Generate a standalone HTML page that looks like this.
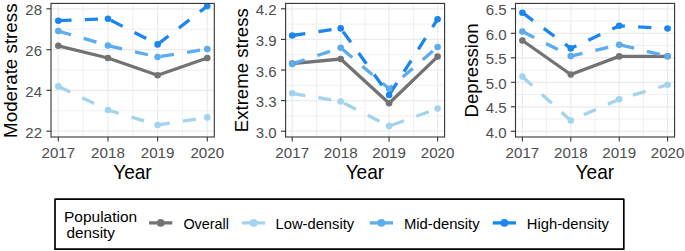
<!DOCTYPE html><html><head><meta charset="utf-8"><style>html,body{margin:0;padding:0;background:#fff;overflow:hidden;width:685px;height:251px;}svg{display:block;}</style></head><body>
<svg width="685" height="251" viewBox="0 0 685 251" font-family='"Liberation Sans", sans-serif'>
<rect x="0" y="0" width="685" height="251" fill="#fff"/>
<clipPath id="c0"><rect x="51.0" y="3.4" width="163.30" height="133.60"/></clipPath>
<g clip-path="url(#c0)">
<line x1="83.12" y1="3.4" x2="83.12" y2="137.0" stroke="#ebebeb" stroke-width="0.8"/>
<line x1="132.78" y1="3.4" x2="132.78" y2="137.0" stroke="#ebebeb" stroke-width="0.8"/>
<line x1="182.43" y1="3.4" x2="182.43" y2="137.0" stroke="#ebebeb" stroke-width="0.8"/>
<line x1="51.0" y1="29.20" x2="214.3" y2="29.20" stroke="#ebebeb" stroke-width="0.8"/>
<line x1="51.0" y1="70.00" x2="214.3" y2="70.00" stroke="#ebebeb" stroke-width="0.8"/>
<line x1="51.0" y1="110.80" x2="214.3" y2="110.80" stroke="#ebebeb" stroke-width="0.8"/>
<line x1="58.30" y1="3.4" x2="58.30" y2="137.0" stroke="#ebebeb" stroke-width="1.2"/>
<line x1="107.95" y1="3.4" x2="107.95" y2="137.0" stroke="#ebebeb" stroke-width="1.2"/>
<line x1="157.60" y1="3.4" x2="157.60" y2="137.0" stroke="#ebebeb" stroke-width="1.2"/>
<line x1="207.25" y1="3.4" x2="207.25" y2="137.0" stroke="#ebebeb" stroke-width="1.2"/>
<line x1="51.0" y1="8.80" x2="214.3" y2="8.80" stroke="#ebebeb" stroke-width="1.2"/>
<line x1="51.0" y1="49.70" x2="214.3" y2="49.70" stroke="#ebebeb" stroke-width="1.2"/>
<line x1="51.0" y1="90.30" x2="214.3" y2="90.30" stroke="#ebebeb" stroke-width="1.2"/>
<line x1="51.0" y1="131.20" x2="214.3" y2="131.20" stroke="#ebebeb" stroke-width="1.2"/>
<polyline points="58.30,45.80 107.95,58.00 157.60,75.30 207.25,58.00" fill="none" stroke="#737373" stroke-width="3.3" stroke-linecap="butt" stroke-linejoin="round"/>
<polyline points="58.30,86.40 107.95,110.00 157.60,125.00 207.25,117.40" fill="none" stroke="#A4D3EE" stroke-width="3.3" stroke-dasharray="13.25 13.25" stroke-linecap="butt" stroke-linejoin="round"/>
<polyline points="58.30,31.00 107.95,45.50 157.60,57.00 207.25,49.10" fill="none" stroke="#5CACEE" stroke-width="3.3" stroke-dasharray="13.25 13.25" stroke-linecap="butt" stroke-linejoin="round"/>
<polyline points="58.30,20.70 107.95,18.80 157.60,44.40 207.25,6.10" fill="none" stroke="#1C86EE" stroke-width="3.3" stroke-dasharray="13.25 13.25" stroke-linecap="butt" stroke-linejoin="round"/>
<circle cx="58.30" cy="45.80" r="3.3" fill="#737373"/>
<circle cx="107.95" cy="58.00" r="3.3" fill="#737373"/>
<circle cx="157.60" cy="75.30" r="3.3" fill="#737373"/>
<circle cx="207.25" cy="58.00" r="3.3" fill="#737373"/>
<circle cx="58.30" cy="86.40" r="3.3" fill="#A4D3EE"/>
<circle cx="107.95" cy="110.00" r="3.3" fill="#A4D3EE"/>
<circle cx="157.60" cy="125.00" r="3.3" fill="#A4D3EE"/>
<circle cx="207.25" cy="117.40" r="3.3" fill="#A4D3EE"/>
<circle cx="58.30" cy="31.00" r="3.3" fill="#5CACEE"/>
<circle cx="107.95" cy="45.50" r="3.3" fill="#5CACEE"/>
<circle cx="157.60" cy="57.00" r="3.3" fill="#5CACEE"/>
<circle cx="207.25" cy="49.10" r="3.3" fill="#5CACEE"/>
<circle cx="58.30" cy="20.70" r="3.3" fill="#1C86EE"/>
<circle cx="107.95" cy="18.80" r="3.3" fill="#1C86EE"/>
<circle cx="157.60" cy="44.40" r="3.3" fill="#1C86EE"/>
<circle cx="207.25" cy="6.10" r="3.3" fill="#1C86EE"/>
</g>
<rect x="51.0" y="3.4" width="163.30" height="133.60" fill="none" stroke="#333333" stroke-width="1.1"/>
<line x1="46.40" y1="8.8" x2="51.0" y2="8.8" stroke="#333333" stroke-width="1.1"/>
<text transform="translate(42.00,15.40) scale(1,1.03)" font-size="15" fill="#4d4d4d" text-anchor="end">28</text>
<line x1="46.40" y1="49.7" x2="51.0" y2="49.7" stroke="#333333" stroke-width="1.1"/>
<text transform="translate(42.00,56.30) scale(1,1.03)" font-size="15" fill="#4d4d4d" text-anchor="end">26</text>
<line x1="46.40" y1="90.3" x2="51.0" y2="90.3" stroke="#333333" stroke-width="1.1"/>
<text transform="translate(42.00,96.90) scale(1,1.03)" font-size="15" fill="#4d4d4d" text-anchor="end">24</text>
<line x1="46.40" y1="131.2" x2="51.0" y2="131.2" stroke="#333333" stroke-width="1.1"/>
<text transform="translate(42.00,137.80) scale(1,1.03)" font-size="15" fill="#4d4d4d" text-anchor="end">22</text>
<line x1="58.3" y1="137.0" x2="58.3" y2="141.60" stroke="#333333" stroke-width="1.1"/>
<text transform="translate(58.3,157.5) scale(1.01,1.02)" font-size="15" fill="#4d4d4d" text-anchor="middle">2017</text>
<line x1="107.95" y1="137.0" x2="107.95" y2="141.60" stroke="#333333" stroke-width="1.1"/>
<text transform="translate(107.95,157.5) scale(1.01,1.02)" font-size="15" fill="#4d4d4d" text-anchor="middle">2018</text>
<line x1="157.6" y1="137.0" x2="157.6" y2="141.60" stroke="#333333" stroke-width="1.1"/>
<text transform="translate(157.6,157.5) scale(1.01,1.02)" font-size="15" fill="#4d4d4d" text-anchor="middle">2019</text>
<line x1="207.25" y1="137.0" x2="207.25" y2="141.60" stroke="#333333" stroke-width="1.1"/>
<text transform="translate(207.25,157.5) scale(1.01,1.02)" font-size="15" fill="#4d4d4d" text-anchor="middle">2020</text>
<text transform="translate(132.45,178.8) scale(1.025,1.05)" font-size="18.6" fill="#000" text-anchor="middle">Year</text>
<text transform="translate(17.35,70.70) rotate(-90)" x="0" y="0" font-size="18.75" fill="#000" text-anchor="middle">Moderate stress</text>
<clipPath id="c1"><rect x="285.6" y="3.4" width="159.00" height="133.60"/></clipPath>
<g clip-path="url(#c1)">
<line x1="316.45" y1="3.4" x2="316.45" y2="137.0" stroke="#ebebeb" stroke-width="0.8"/>
<line x1="364.95" y1="3.4" x2="364.95" y2="137.0" stroke="#ebebeb" stroke-width="0.8"/>
<line x1="413.45" y1="3.4" x2="413.45" y2="137.0" stroke="#ebebeb" stroke-width="0.8"/>
<line x1="285.6" y1="24.10" x2="444.6" y2="24.10" stroke="#ebebeb" stroke-width="0.8"/>
<line x1="285.6" y1="54.70" x2="444.6" y2="54.70" stroke="#ebebeb" stroke-width="0.8"/>
<line x1="285.6" y1="85.30" x2="444.6" y2="85.30" stroke="#ebebeb" stroke-width="0.8"/>
<line x1="285.6" y1="115.90" x2="444.6" y2="115.90" stroke="#ebebeb" stroke-width="0.8"/>
<line x1="292.20" y1="3.4" x2="292.20" y2="137.0" stroke="#ebebeb" stroke-width="1.2"/>
<line x1="340.70" y1="3.4" x2="340.70" y2="137.0" stroke="#ebebeb" stroke-width="1.2"/>
<line x1="389.10" y1="3.4" x2="389.10" y2="137.0" stroke="#ebebeb" stroke-width="1.2"/>
<line x1="437.60" y1="3.4" x2="437.60" y2="137.0" stroke="#ebebeb" stroke-width="1.2"/>
<line x1="285.6" y1="8.80" x2="444.6" y2="8.80" stroke="#ebebeb" stroke-width="1.2"/>
<line x1="285.6" y1="39.40" x2="444.6" y2="39.40" stroke="#ebebeb" stroke-width="1.2"/>
<line x1="285.6" y1="70.00" x2="444.6" y2="70.00" stroke="#ebebeb" stroke-width="1.2"/>
<line x1="285.6" y1="100.60" x2="444.6" y2="100.60" stroke="#ebebeb" stroke-width="1.2"/>
<line x1="285.6" y1="131.20" x2="444.6" y2="131.20" stroke="#ebebeb" stroke-width="1.2"/>
<polyline points="292.20,63.60 340.70,59.00 389.10,103.30 437.60,56.60" fill="none" stroke="#737373" stroke-width="3.3" stroke-linecap="butt" stroke-linejoin="round"/>
<polyline points="292.20,93.30 340.70,101.50 389.10,126.10 437.60,108.50" fill="none" stroke="#A4D3EE" stroke-width="3.3" stroke-dasharray="13.25 13.25" stroke-linecap="butt" stroke-linejoin="round"/>
<polyline points="292.20,63.90 340.70,47.80 389.10,88.80 437.60,47.00" fill="none" stroke="#5CACEE" stroke-width="3.3" stroke-dasharray="13.25 13.25" stroke-linecap="butt" stroke-linejoin="round"/>
<polyline points="292.20,35.50 340.70,28.40 389.10,95.00 437.60,19.20" fill="none" stroke="#1C86EE" stroke-width="3.3" stroke-dasharray="13.25 13.25" stroke-linecap="butt" stroke-linejoin="round"/>
<circle cx="292.20" cy="63.60" r="3.3" fill="#737373"/>
<circle cx="340.70" cy="59.00" r="3.3" fill="#737373"/>
<circle cx="389.10" cy="103.30" r="3.3" fill="#737373"/>
<circle cx="437.60" cy="56.60" r="3.3" fill="#737373"/>
<circle cx="292.20" cy="93.30" r="3.3" fill="#A4D3EE"/>
<circle cx="340.70" cy="101.50" r="3.3" fill="#A4D3EE"/>
<circle cx="389.10" cy="126.10" r="3.3" fill="#A4D3EE"/>
<circle cx="437.60" cy="108.50" r="3.3" fill="#A4D3EE"/>
<circle cx="292.20" cy="63.90" r="3.3" fill="#5CACEE"/>
<circle cx="340.70" cy="47.80" r="3.3" fill="#5CACEE"/>
<circle cx="389.10" cy="88.80" r="3.3" fill="#5CACEE"/>
<circle cx="437.60" cy="47.00" r="3.3" fill="#5CACEE"/>
<circle cx="292.20" cy="35.50" r="3.3" fill="#1C86EE"/>
<circle cx="340.70" cy="28.40" r="3.3" fill="#1C86EE"/>
<circle cx="389.10" cy="95.00" r="3.3" fill="#1C86EE"/>
<circle cx="437.60" cy="19.20" r="3.3" fill="#1C86EE"/>
</g>
<rect x="285.6" y="3.4" width="159.00" height="133.60" fill="none" stroke="#333333" stroke-width="1.1"/>
<line x1="281.00" y1="8.8" x2="285.6" y2="8.8" stroke="#333333" stroke-width="1.1"/>
<text transform="translate(276.60,15.40) scale(1,1.03)" font-size="15" fill="#4d4d4d" text-anchor="end">4.2</text>
<line x1="281.00" y1="39.4" x2="285.6" y2="39.4" stroke="#333333" stroke-width="1.1"/>
<text transform="translate(276.60,46.00) scale(1,1.03)" font-size="15" fill="#4d4d4d" text-anchor="end">3.9</text>
<line x1="281.00" y1="70.0" x2="285.6" y2="70.0" stroke="#333333" stroke-width="1.1"/>
<text transform="translate(276.60,76.60) scale(1,1.03)" font-size="15" fill="#4d4d4d" text-anchor="end">3.6</text>
<line x1="281.00" y1="100.6" x2="285.6" y2="100.6" stroke="#333333" stroke-width="1.1"/>
<text transform="translate(276.60,107.20) scale(1,1.03)" font-size="15" fill="#4d4d4d" text-anchor="end">3.3</text>
<line x1="281.00" y1="131.2" x2="285.6" y2="131.2" stroke="#333333" stroke-width="1.1"/>
<text transform="translate(276.60,137.80) scale(1,1.03)" font-size="15" fill="#4d4d4d" text-anchor="end">3.0</text>
<line x1="292.2" y1="137.0" x2="292.2" y2="141.60" stroke="#333333" stroke-width="1.1"/>
<text transform="translate(292.2,157.5) scale(1.01,1.02)" font-size="15" fill="#4d4d4d" text-anchor="middle">2017</text>
<line x1="340.7" y1="137.0" x2="340.7" y2="141.60" stroke="#333333" stroke-width="1.1"/>
<text transform="translate(340.7,157.5) scale(1.01,1.02)" font-size="15" fill="#4d4d4d" text-anchor="middle">2018</text>
<line x1="389.1" y1="137.0" x2="389.1" y2="141.60" stroke="#333333" stroke-width="1.1"/>
<text transform="translate(389.1,157.5) scale(1.01,1.02)" font-size="15" fill="#4d4d4d" text-anchor="middle">2019</text>
<line x1="437.6" y1="137.0" x2="437.6" y2="141.60" stroke="#333333" stroke-width="1.1"/>
<text transform="translate(437.6,157.5) scale(1.01,1.02)" font-size="15" fill="#4d4d4d" text-anchor="middle">2020</text>
<text transform="translate(364.90,178.8) scale(1.025,1.05)" font-size="18.6" fill="#000" text-anchor="middle">Year</text>
<text transform="translate(248.05,70.20) rotate(-90)" x="0" y="0" font-size="18.6" fill="#000" text-anchor="middle">Extreme stress</text>
<clipPath id="c2"><rect x="515.5" y="3.4" width="159.10" height="133.60"/></clipPath>
<g clip-path="url(#c2)">
<line x1="546.60" y1="3.4" x2="546.60" y2="137.0" stroke="#ebebeb" stroke-width="0.8"/>
<line x1="595.00" y1="3.4" x2="595.00" y2="137.0" stroke="#ebebeb" stroke-width="0.8"/>
<line x1="643.40" y1="3.4" x2="643.40" y2="137.0" stroke="#ebebeb" stroke-width="0.8"/>
<line x1="515.5" y1="21.05" x2="674.6" y2="21.05" stroke="#ebebeb" stroke-width="0.8"/>
<line x1="515.5" y1="45.55" x2="674.6" y2="45.55" stroke="#ebebeb" stroke-width="0.8"/>
<line x1="515.5" y1="70.05" x2="674.6" y2="70.05" stroke="#ebebeb" stroke-width="0.8"/>
<line x1="515.5" y1="94.55" x2="674.6" y2="94.55" stroke="#ebebeb" stroke-width="0.8"/>
<line x1="515.5" y1="119.05" x2="674.6" y2="119.05" stroke="#ebebeb" stroke-width="0.8"/>
<line x1="522.40" y1="3.4" x2="522.40" y2="137.0" stroke="#ebebeb" stroke-width="1.2"/>
<line x1="570.80" y1="3.4" x2="570.80" y2="137.0" stroke="#ebebeb" stroke-width="1.2"/>
<line x1="619.20" y1="3.4" x2="619.20" y2="137.0" stroke="#ebebeb" stroke-width="1.2"/>
<line x1="667.60" y1="3.4" x2="667.60" y2="137.0" stroke="#ebebeb" stroke-width="1.2"/>
<line x1="515.5" y1="8.80" x2="674.6" y2="8.80" stroke="#ebebeb" stroke-width="1.2"/>
<line x1="515.5" y1="33.30" x2="674.6" y2="33.30" stroke="#ebebeb" stroke-width="1.2"/>
<line x1="515.5" y1="57.80" x2="674.6" y2="57.80" stroke="#ebebeb" stroke-width="1.2"/>
<line x1="515.5" y1="82.30" x2="674.6" y2="82.30" stroke="#ebebeb" stroke-width="1.2"/>
<line x1="515.5" y1="106.80" x2="674.6" y2="106.80" stroke="#ebebeb" stroke-width="1.2"/>
<line x1="515.5" y1="131.30" x2="674.6" y2="131.30" stroke="#ebebeb" stroke-width="1.2"/>
<polyline points="522.40,40.50 570.80,74.50 619.20,56.40 667.60,56.30" fill="none" stroke="#737373" stroke-width="3.3" stroke-linecap="butt" stroke-linejoin="round"/>
<polyline points="522.40,76.60 570.80,120.50 619.20,99.20 667.60,84.70" fill="none" stroke="#A4D3EE" stroke-width="3.3" stroke-dasharray="13.25 13.25" stroke-linecap="butt" stroke-linejoin="round"/>
<polyline points="522.40,31.50 570.80,56.10 619.20,44.70 667.60,56.20" fill="none" stroke="#5CACEE" stroke-width="3.3" stroke-dasharray="13.25 13.25" stroke-linecap="butt" stroke-linejoin="round"/>
<polyline points="522.40,12.70 570.80,48.40 619.20,25.80 667.60,28.50" fill="none" stroke="#1C86EE" stroke-width="3.3" stroke-dasharray="13.25 13.25" stroke-linecap="butt" stroke-linejoin="round"/>
<circle cx="522.40" cy="40.50" r="3.3" fill="#737373"/>
<circle cx="570.80" cy="74.50" r="3.3" fill="#737373"/>
<circle cx="619.20" cy="56.40" r="3.3" fill="#737373"/>
<circle cx="667.60" cy="56.30" r="3.3" fill="#737373"/>
<circle cx="522.40" cy="76.60" r="3.3" fill="#A4D3EE"/>
<circle cx="570.80" cy="120.50" r="3.3" fill="#A4D3EE"/>
<circle cx="619.20" cy="99.20" r="3.3" fill="#A4D3EE"/>
<circle cx="667.60" cy="84.70" r="3.3" fill="#A4D3EE"/>
<circle cx="522.40" cy="31.50" r="3.3" fill="#5CACEE"/>
<circle cx="570.80" cy="56.10" r="3.3" fill="#5CACEE"/>
<circle cx="619.20" cy="44.70" r="3.3" fill="#5CACEE"/>
<circle cx="667.60" cy="56.20" r="3.3" fill="#5CACEE"/>
<circle cx="522.40" cy="12.70" r="3.3" fill="#1C86EE"/>
<circle cx="570.80" cy="48.40" r="3.3" fill="#1C86EE"/>
<circle cx="619.20" cy="25.80" r="3.3" fill="#1C86EE"/>
<circle cx="667.60" cy="28.50" r="3.3" fill="#1C86EE"/>
</g>
<rect x="515.5" y="3.4" width="159.10" height="133.60" fill="none" stroke="#333333" stroke-width="1.1"/>
<line x1="510.90" y1="8.8" x2="515.5" y2="8.8" stroke="#333333" stroke-width="1.1"/>
<text transform="translate(506.50,15.40) scale(1,1.03)" font-size="15" fill="#4d4d4d" text-anchor="end">6.5</text>
<line x1="510.90" y1="33.3" x2="515.5" y2="33.3" stroke="#333333" stroke-width="1.1"/>
<text transform="translate(506.50,39.90) scale(1,1.03)" font-size="15" fill="#4d4d4d" text-anchor="end">6.0</text>
<line x1="510.90" y1="57.8" x2="515.5" y2="57.8" stroke="#333333" stroke-width="1.1"/>
<text transform="translate(506.50,64.40) scale(1,1.03)" font-size="15" fill="#4d4d4d" text-anchor="end">5.5</text>
<line x1="510.90" y1="82.3" x2="515.5" y2="82.3" stroke="#333333" stroke-width="1.1"/>
<text transform="translate(506.50,88.90) scale(1,1.03)" font-size="15" fill="#4d4d4d" text-anchor="end">5.0</text>
<line x1="510.90" y1="106.8" x2="515.5" y2="106.8" stroke="#333333" stroke-width="1.1"/>
<text transform="translate(506.50,113.40) scale(1,1.03)" font-size="15" fill="#4d4d4d" text-anchor="end">4.5</text>
<line x1="510.90" y1="131.3" x2="515.5" y2="131.3" stroke="#333333" stroke-width="1.1"/>
<text transform="translate(506.50,137.90) scale(1,1.03)" font-size="15" fill="#4d4d4d" text-anchor="end">4.0</text>
<line x1="522.4" y1="137.0" x2="522.4" y2="141.60" stroke="#333333" stroke-width="1.1"/>
<text transform="translate(522.4,157.5) scale(1.01,1.02)" font-size="15" fill="#4d4d4d" text-anchor="middle">2017</text>
<line x1="570.8" y1="137.0" x2="570.8" y2="141.60" stroke="#333333" stroke-width="1.1"/>
<text transform="translate(570.8,157.5) scale(1.01,1.02)" font-size="15" fill="#4d4d4d" text-anchor="middle">2018</text>
<line x1="619.2" y1="137.0" x2="619.2" y2="141.60" stroke="#333333" stroke-width="1.1"/>
<text transform="translate(619.2,157.5) scale(1.01,1.02)" font-size="15" fill="#4d4d4d" text-anchor="middle">2019</text>
<line x1="667.6" y1="137.0" x2="667.6" y2="141.60" stroke="#333333" stroke-width="1.1"/>
<text transform="translate(667.6,157.5) scale(1.01,1.02)" font-size="15" fill="#4d4d4d" text-anchor="middle">2020</text>
<text transform="translate(594.85,178.8) scale(1.025,1.05)" font-size="18.6" fill="#000" text-anchor="middle">Year</text>
<text transform="translate(478.00,70.40) rotate(-90)" x="0" y="0" font-size="18.63" fill="#000" text-anchor="middle">Depression</text>
<rect x="55" y="199.2" width="568.8" height="50" fill="none" stroke="#000" stroke-width="1.7" stroke-linejoin="round"/>
<text x="64" y="221.8" font-size="15.3" fill="#000" textLength="73.2" lengthAdjust="spacingAndGlyphs">Population</text>
<text x="66.5" y="237.9" font-size="15.3" fill="#000">density</text>
<line x1="149.1" y1="222.9" x2="172.30" y2="222.9" stroke="#737373" stroke-width="3.3"/>
<circle cx="160.70" cy="222.9" r="3.85" fill="#737373"/>
<text x="183.4" y="228.8" font-size="14.6" fill="#000" textLength="45.6" lengthAdjust="spacingAndGlyphs">Overall</text>
<line x1="242.0" y1="222.9" x2="265.20" y2="222.9" stroke="#A4D3EE" stroke-width="3.3"/>
<circle cx="253.60" cy="222.9" r="3.85" fill="#A4D3EE"/>
<text x="275.6" y="228.8" font-size="14.6" fill="#000" textLength="78.5" lengthAdjust="spacingAndGlyphs">Low-density</text>
<line x1="369.8" y1="222.9" x2="393.00" y2="222.9" stroke="#5CACEE" stroke-width="3.3"/>
<circle cx="381.40" cy="222.9" r="3.85" fill="#5CACEE"/>
<text x="403.9" y="228.8" font-size="14.6" fill="#000" textLength="75.7" lengthAdjust="spacingAndGlyphs">Mid-density</text>
<line x1="492.8" y1="222.9" x2="516.00" y2="222.9" stroke="#1C86EE" stroke-width="3.3"/>
<circle cx="504.40" cy="222.9" r="3.85" fill="#1C86EE"/>
<text x="526.8" y="228.8" font-size="14.6" fill="#000" textLength="82.1" lengthAdjust="spacingAndGlyphs">High-density</text>
</svg></body></html>
